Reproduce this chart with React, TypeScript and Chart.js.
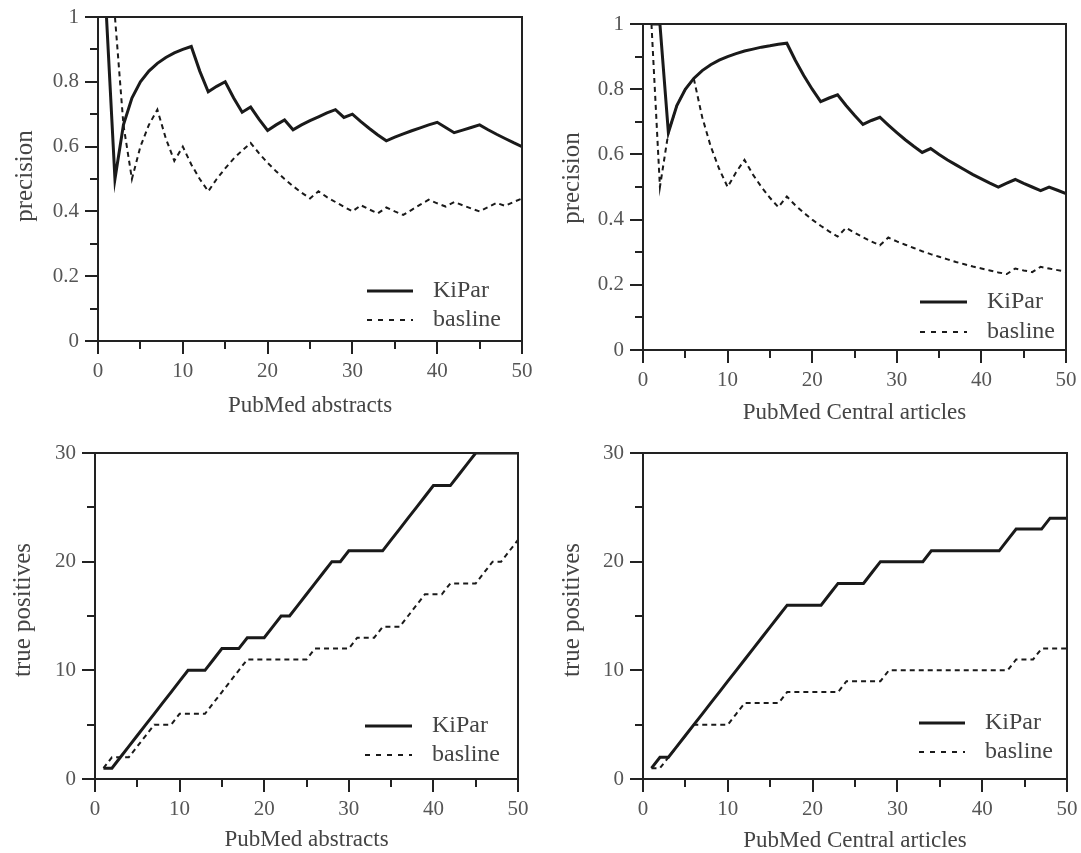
import React, { useEffect, useRef } from "react";
import { Chart, registerables } from "chart.js";

Chart.register(...registerables);

// ---------- data ----------
const documentsRetrieved = [
  1, 2, 3, 4, 5, 6, 7, 8, 9, 10, 11, 12, 13, 14, 15, 16, 17, 18, 19, 20, 21, 22, 23, 24, 25,
  26, 27, 28, 29, 30, 31, 32, 33, 34, 35, 36, 37, 38, 39, 40, 41, 42, 43, 44, 45, 46, 47, 48, 49, 50,
];

const seriesNames = ["KiPar", "basline"];

const pubmedKiParPrecision = [
  1.0, 0.5, 0.667, 0.75, 0.8, 0.833, 0.857, 0.875, 0.889, 0.9, 0.909, 0.833, 0.769, 0.786, 0.8,
  0.75, 0.706, 0.722, 0.684, 0.65, 0.667, 0.682, 0.652, 0.667, 0.68, 0.692, 0.704, 0.714, 0.69, 0.7,
  0.677, 0.656, 0.636, 0.618, 0.629, 0.639, 0.649, 0.658, 0.667, 0.675, 0.659, 0.643, 0.651, 0.659,
  0.667, 0.652, 0.638, 0.625, 0.612, 0.6,
];
const pubmedBaselinePrecision = [
  1.0, 1.0, 0.667, 0.5, 0.6, 0.667, 0.714, 0.625, 0.556, 0.6, 0.545, 0.5, 0.462, 0.5, 0.533, 0.563,
  0.588, 0.611, 0.579, 0.55, 0.524, 0.5, 0.478, 0.458, 0.44, 0.462, 0.444, 0.429, 0.414, 0.4, 0.419,
  0.406, 0.394, 0.412, 0.4, 0.389, 0.405, 0.421, 0.436, 0.425, 0.415, 0.429, 0.419, 0.409, 0.4,
  0.413, 0.426, 0.417, 0.429, 0.44,
];
const pmcKiParPrecision = [
  1.0, 1.0, 0.667, 0.75, 0.8, 0.833, 0.857, 0.875, 0.889, 0.9, 0.909, 0.917, 0.923, 0.929, 0.933,
  0.938, 0.941, 0.889, 0.842, 0.8, 0.762, 0.773, 0.783, 0.75, 0.72, 0.692, 0.704, 0.714, 0.69, 0.667,
  0.645, 0.625, 0.606, 0.618, 0.6, 0.583, 0.568, 0.553, 0.538, 0.525, 0.512, 0.5, 0.512, 0.523,
  0.511, 0.5, 0.489, 0.5, 0.49, 0.48,
];
const pmcBaselinePrecision = [
  1.0, 0.5, 0.667, 0.75, 0.8, 0.833, 0.714, 0.625, 0.556, 0.5, 0.545, 0.583, 0.538, 0.5, 0.467,
  0.438, 0.471, 0.444, 0.421, 0.4, 0.381, 0.364, 0.348, 0.375, 0.36, 0.346, 0.333, 0.321, 0.345,
  0.333, 0.323, 0.313, 0.303, 0.294, 0.286, 0.278, 0.27, 0.263, 0.256, 0.25, 0.244, 0.238, 0.233,
  0.25, 0.244, 0.239, 0.255, 0.25, 0.245, 0.24,
];

const pubmedKiParTruePositives = [
  1, 1, 2, 3, 4, 5, 6, 7, 8, 9, 10, 10, 10, 11, 12, 12, 12, 13, 13, 13, 14, 15, 15, 16, 17, 18, 19,
  20, 20, 21, 21, 21, 21, 21, 22, 23, 24, 25, 26, 27, 27, 27, 28, 29, 30, 30, 30, 30, 30, 30,
];
const pubmedBaselineTruePositives = [
  1, 2, 2, 2, 3, 4, 5, 5, 5, 6, 6, 6, 6, 7, 8, 9, 10, 11, 11, 11, 11, 11, 11, 11, 11, 12, 12, 12,
  12, 12, 13, 13, 13, 14, 14, 14, 15, 16, 17, 17, 17, 18, 18, 18, 18, 19, 20, 20, 21, 22,
];
const pmcKiParTruePositives = [
  1, 2, 2, 3, 4, 5, 6, 7, 8, 9, 10, 11, 12, 13, 14, 15, 16, 16, 16, 16, 16, 17, 18, 18, 18, 18, 19,
  20, 20, 20, 20, 20, 20, 21, 21, 21, 21, 21, 21, 21, 21, 21, 22, 23, 23, 23, 23, 24, 24, 24,
];
const pmcBaselineTruePositives = [
  1, 1, 2, 3, 4, 5, 5, 5, 5, 5, 6, 7, 7, 7, 7, 7, 8, 8, 8, 8, 8, 8, 8, 9, 9, 9, 9, 9, 10, 10, 10, 10,
  10, 10, 10, 10, 10, 10, 10, 10, 10, 10, 10, 11, 11, 11, 12, 12, 12, 12,
];

const xTickValues = [0, 10, 20, 30, 40, 50];
const xTickLabels = ["0", "10", "20", "30", "40", "50"];
const xMinorTickValues = [5, 15, 25, 35, 45];
const precisionTickValues = [0, 0.2, 0.4, 0.6, 0.8, 1];
const precisionTickLabels = ["0", "0.2", "0.4", "0.6", "0.8", "1"];
const precisionMinorTickValues = [0.1, 0.3, 0.5, 0.7, 0.9];
const tpTickValues = [0, 10, 20, 30];
const tpTickLabels = ["0", "10", "20", "30"];
const tpMinorTickValues = [5, 15, 25];

// ---------- styling ----------
const FONT = "'Liberation Serif', 'Times New Roman', serif";
const INK = "#1a1a1a";
const AXIS = "#222";
const TEXT = "#444";
const TICK_TEXT = "#555";

type PanelCfg = {
  plot: { l: number; t: number; r: number; b: number };
  yMax: number;
  yTicks: number[];
  yLabels: string[];
  yMinor: number[];
  kipar: number[];
  baseline: number[];
  clipTop: boolean;
  xTitle: string;
  yTitle: string;
  xTitleY: number;
  yTitleX: number;
  yTitleY: number;
  legend: { x1: number; x2: number; textX: number; y1: number; y2: number };
};

const panels: PanelCfg[] = [
  {
    plot: { l: 98, t: 17, r: 522, b: 341 },
    yMax: 1,
    yTicks: precisionTickValues,
    yLabels: precisionTickLabels,
    yMinor: precisionMinorTickValues,
    kipar: pubmedKiParPrecision,
    baseline: pubmedBaselinePrecision,
    clipTop: false,
    xTitle: "PubMed abstracts",
    yTitle: "precision",
    xTitleY: 406,
    yTitleX: 25,
    yTitleY: 176,
    legend: { x1: 367, x2: 413, textX: 433, y1: 291, y2: 320 },
  },
  {
    plot: { l: 643, t: 24, r: 1066, b: 350 },
    yMax: 1,
    yTicks: precisionTickValues,
    yLabels: precisionTickLabels,
    yMinor: precisionMinorTickValues,
    kipar: pmcKiParPrecision,
    baseline: pmcBaselinePrecision,
    clipTop: false,
    xTitle: "PubMed Central articles",
    yTitle: "precision",
    xTitleY: 413,
    yTitleX: 572,
    yTitleY: 178,
    legend: { x1: 920, x2: 967, textX: 987, y1: 302, y2: 332 },
  },
  {
    plot: { l: 95, t: 453, r: 518, b: 779 },
    yMax: 30,
    yTicks: tpTickValues,
    yLabels: tpTickLabels,
    yMinor: tpMinorTickValues,
    kipar: pubmedKiParTruePositives,
    baseline: pubmedBaselineTruePositives,
    clipTop: true,
    xTitle: "PubMed abstracts",
    yTitle: "true positives",
    xTitleY: 840,
    yTitleX: 23,
    yTitleY: 610,
    legend: { x1: 365, x2: 412, textX: 432, y1: 726, y2: 755 },
  },
  {
    plot: { l: 643, t: 453, r: 1067, b: 779 },
    yMax: 30,
    yTicks: tpTickValues,
    yLabels: tpTickLabels,
    yMinor: tpMinorTickValues,
    kipar: pmcKiParTruePositives,
    baseline: pmcBaselineTruePositives,
    clipTop: true,
    xTitle: "PubMed Central articles",
    yTitle: "true positives",
    xTitleY: 841,
    yTitleX: 572,
    yTitleY: 610,
    legend: { x1: 919, x2: 965, textX: 985, y1: 723, y2: 752 },
  },
];

const PAD_L = 98;
const PAD_T = 20;
const PAD_R = 20;
const PAD_B = 74;

function Panel({ cfg }: { cfg: PanelCfg }) {
  const ref = useRef<HTMLCanvasElement | null>(null);
  const left = cfg.plot.l - PAD_L;
  const top = cfg.plot.t - PAD_T;
  const width = cfg.plot.r - cfg.plot.l + PAD_L + PAD_R;
  const height = cfg.plot.b - cfg.plot.t + PAD_T + PAD_B;

  useEffect(() => {
    if (!ref.current) return;
    const decor = {
      id: "decor",
      afterDraw(chart: any) {
        const { ctx, chartArea, scales } = chart;
        const { left: l, top: t, right: r, bottom: b } = chartArea;
        const xs = scales.x;
        const ys = scales.y;
        ctx.save();
        // frame top & right
        ctx.strokeStyle = AXIS;
        ctx.lineWidth = 2;
        ctx.beginPath();
        ctx.moveTo(l, t);
        ctx.lineTo(r, t);
        ctx.lineTo(r, b);
        ctx.stroke();
        // minor ticks
        ctx.beginPath();
        for (const v of xMinorTickValues) {
          const px = Math.round(xs.getPixelForValue(v));
          ctx.moveTo(px, b);
          ctx.lineTo(px, b + 8);
        }
        for (const v of cfg.yMinor) {
          const py = Math.round(ys.getPixelForValue(v));
          ctx.moveTo(l, py);
          ctx.lineTo(l - 8, py);
        }
        ctx.stroke();
        // axis titles
        ctx.fillStyle = TEXT;
        ctx.font = `23px ${FONT}`;
        ctx.textAlign = "center";
        ctx.textBaseline = "middle";
        ctx.fillText(cfg.xTitle, (l + r) / 2, cfg.xTitleY - top);
        ctx.save();
        ctx.font = `25px ${FONT}`;
        ctx.translate(cfg.yTitleX - left, cfg.yTitleY - top);
        ctx.rotate(-Math.PI / 2);
        ctx.fillText(cfg.yTitle, 0, 0);
        ctx.restore();
        // legend
        const lg = cfg.legend;
        ctx.strokeStyle = INK;
        ctx.lineWidth = 3;
        ctx.setLineDash([]);
        ctx.beginPath();
        ctx.moveTo(lg.x1 - left, lg.y1 - top);
        ctx.lineTo(lg.x2 - left, lg.y1 - top);
        ctx.stroke();
        ctx.lineWidth = 2;
        ctx.setLineDash([5, 6]);
        ctx.beginPath();
        ctx.moveTo(lg.x1 - left, lg.y2 - top);
        ctx.lineTo(lg.x2 - left, lg.y2 - top);
        ctx.stroke();
        ctx.setLineDash([]);
        ctx.textAlign = "left";
        ctx.font = `24px ${FONT}`;
        ctx.fillText(seriesNames[0], lg.textX - left, lg.y1 - top);
        ctx.fillText(seriesNames[1], lg.textX - left, lg.y2 - top);
        ctx.restore();
      },
    };

    const clipOpt = cfg.clipTop ? { clip: 0 } : {};

    const chart = new Chart(ref.current, {
      type: "line",
      data: {
        datasets: [
          {
            label: seriesNames[0],
            data: documentsRetrieved.map((x, i) => ({ x, y: cfg.kipar[i] })),
            borderColor: INK,
            borderWidth: 3,
            pointRadius: 0,
            tension: 0,
            fill: false,
            ...clipOpt,
          },
          {
            label: seriesNames[1],
            data: documentsRetrieved.map((x, i) => ({ x, y: cfg.baseline[i] })),
            borderColor: INK,
            borderWidth: 2,
            borderDash: [5, 4],
            pointRadius: 0,
            tension: 0,
            fill: false,
            ...clipOpt,
          },
        ],
      },
      options: {
        responsive: false,
        animation: false,
        events: [],
        layout: { padding: { left: 0, top: PAD_T, right: PAD_R, bottom: 0 } },
        plugins: { legend: { display: false }, tooltip: { enabled: false } },
        scales: {
          x: {
            type: "linear",
            min: 0,
            max: 50,
            afterBuildTicks: (s: any) => {
              s.ticks = xTickValues.map((v) => ({ value: v }));
            },
            afterFit: (s: any) => {
              s.height = PAD_B;
            },
            grid: {
              display: true,
              drawOnChartArea: false,
              drawTicks: true,
              tickLength: 13,
              color: AXIS,
              lineWidth: 2,
            },
            border: { display: true, color: AXIS, width: 2 },
            ticks: {
              padding: 5,
              autoSkip: false,
              maxRotation: 0,
              color: TICK_TEXT,
              font: { family: FONT, size: 21 },
              callback: (_v: any, i: number) => xTickLabels[i],
            },
          },
          y: {
            type: "linear",
            min: 0,
            max: cfg.yMax,
            afterBuildTicks: (s: any) => {
              s.ticks = cfg.yTicks.map((v) => ({ value: v }));
            },
            afterFit: (s: any) => {
              s.width = PAD_L;
            },
            grid: {
              display: true,
              drawOnChartArea: false,
              drawTicks: true,
              tickLength: 13,
              color: AXIS,
              lineWidth: 2,
            },
            border: { display: true, color: AXIS, width: 2 },
            ticks: {
              padding: 6,
              autoSkip: false,
              color: TICK_TEXT,
              font: { family: FONT, size: 21 },
              callback: (_v: any, i: number) => cfg.yLabels[i],
            },
          },
        },
      },
      plugins: [decor],
    } as any);
    return () => chart.destroy();
  }, [cfg]);

  return (
    <canvas
      ref={ref}
      width={width}
      height={height}
      style={{ position: "absolute", left, top, width, height }}
    />
  );
}

export default function App() {
  return (
    <div style={{ position: "absolute", left: 0, top: 0, width: 1081, height: 853, background: "#fff" }}>
      {panels.map((p, i) => (
        <Panel key={i} cfg={p} />
      ))}
    </div>
  );
}
